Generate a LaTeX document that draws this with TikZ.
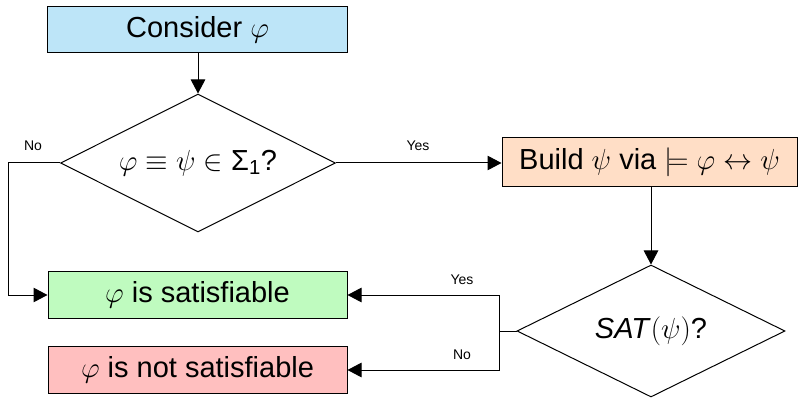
\RequirePackage{fix-cm}
\documentclass[tikz,border=0pt]{standalone}
\usepackage{fontspec}
\setmainfont{Liberation Sans}
\usetikzlibrary{shapes.geometric,arrows.meta}
\definecolor{boxblue}{RGB}{189,229,248}
\definecolor{boxpeach}{RGB}{255,222,198}
\definecolor{boxgreen}{RGB}{191,251,191}
\definecolor{boxred}{RGB}{255,191,191}
\tikzset{
  box/.style={draw=black, line width=1pt, inner sep=0pt, anchor=center,
    font=\fontsize{29}{32}\selectfont},
  decision/.style={diamond, aspect=2, draw=black, line width=1pt, inner sep=0pt,
    font=\fontsize{29}{32}\selectfont},
  flow/.style={line width=1pt, -{Triangle[length=14pt,width=14.5pt]}},
  lbl/.style={font=\fontsize{14}{16}\selectfont, inner sep=0pt}
}
\begin{document}
\begin{tikzpicture}[x=1pt, y=-1pt]
  \useasboundingbox (0,0) rectangle (798,398);

  % process boxes
  \node[box, fill=boxblue, minimum width=300pt, minimum height=46pt]
    (consider) at (197.5,30) {Consider $\varphi$};
  \node[box, fill=boxpeach, minimum width=295pt, minimum height=49pt]
    (build) at (649.5,162.5) {Build $\psi$ via $\models\varphi\leftrightarrow\psi$};
  \node[box, fill=boxgreen, minimum width=299pt, minimum height=47pt]
    (sat) at (197.5,295) {$\varphi$ is satisfiable};
  \node[box, fill=boxred, minimum width=299pt, minimum height=47pt]
    (unsat) at (197.5,370) {$\varphi$ is not satisfiable};

  % decisions
  \node[decision, minimum width=275pt, minimum height=138pt]
    (d1) at (198,163) {$\varphi\equiv\psi\in{}$Σ\textsubscript{1}?};
  \node[decision, minimum width=268pt, minimum height=132pt]
    (d2) at (651,331) {\textit{SAT}$(\psi)$?};

  % helper corners for the elbow connectors
  \coordinate (c1) at (8,163);
  \coordinate (c2) at (499,331);

  % connectors
  \draw[flow] (consider.south -| d1.north) -- (d1.north);
  \draw[flow] (d1.east) -- (build.west |- d1.east);
  \draw[flow] (d1.west) -- (c1) |- (sat.west);
  \draw[flow] (d2.north |- build.south) -- (d2.north);
  \draw[flow] (d2.west) -- (c2) |- (sat.east);
  \draw[flow] (c2) |- (unsat.east);

  % branch labels
  \node[lbl] (no1) at (33,146) {No};
  \node[lbl] (yes1) at (418,146) {Yes};
  \node[lbl] (yes2) at (462,280) {Yes};
  \node[lbl] (no2) at (462,355) {No};
\end{tikzpicture}
\end{document}
